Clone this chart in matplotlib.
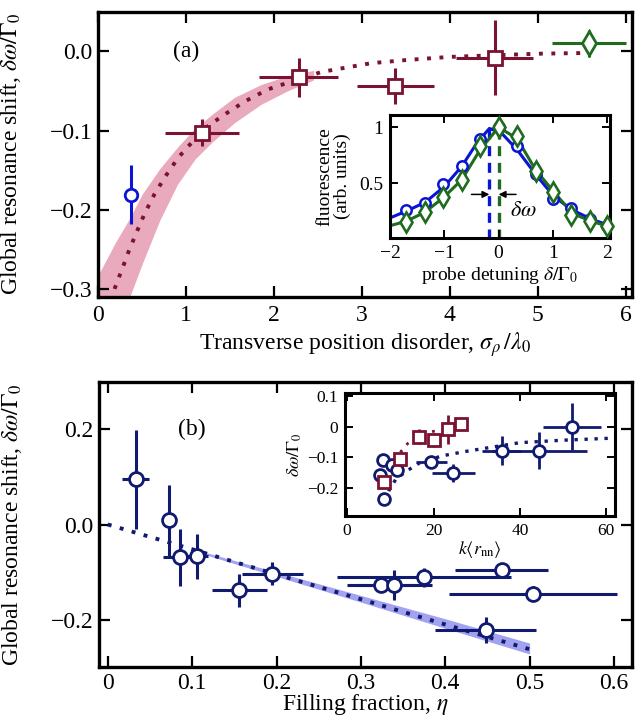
import matplotlib
matplotlib.use("Agg")
import matplotlib.pyplot as plt

# ── Style ────────────────────────────────────────────────────────────────────
plt.rcParams.update({
    "font.family": "serif",
    "font.serif": ["Liberation Serif", "DejaVu Serif"],
    "mathtext.fontset": "stix",
    "font.size": 17,
    "axes.linewidth": 2.4,
    "xtick.direction": "in", "ytick.direction": "in",
    "xtick.top": True, "ytick.right": True,
    "xtick.major.size": 8, "ytick.major.size": 8,
    "xtick.major.width": 1.6, "ytick.major.width": 1.6,
    "xtick.minor.visible": False, "ytick.minor.visible": False,
    "xtick.major.pad": 6, "ytick.major.pad": 4,
})

MAROON = "#7a1232"
PINK = "#eaaabd"
BLUE = "#0a14d4"
GREEN = "#1f6b1f"
NAVY = "#101a6e"
LIGHTBLUE = "#a2a2f0"

# ── Data: panel (a) ──────────────────────────────────────────────────────────
sig_blue, shift_blue, shift_blue_err = [0.37], [-0.181], [0.037]

sig_red = [1.18, 2.28, 3.38, 4.51]
shift_red = [-0.103, -0.033, -0.044, -0.008]
sig_red_err = [0.42, 0.45, 0.44, 0.44]
shift_red_err = [0.017, 0.024, 0.023, 0.047]

sig_green, shift_green = [5.58], [0.01]
sig_green_err, shift_green_err = [0.42], [0.017]

theory_a_x = [0.15, 0.19, 0.27, 0.34, 0.44, 0.53, 0.64, 0.78, 0.91, 1.08, 1.25,
              1.46, 1.67, 1.93, 2.2, 2.54, 3.1, 3.5, 4.0, 4.5, 5.0, 5.6]
theory_a_y = [-0.315, -0.298, -0.275, -0.254, -0.227, -0.204, -0.18, -0.155,
              -0.134, -0.113, -0.094, -0.078, -0.063, -0.048, -0.038, -0.026,
              -0.015, -0.011, -0.007, -0.005, -0.003, -0.002]

band_a_x = [0.0, 0.2, 0.35, 0.5, 0.7, 0.9, 1.1, 1.3, 1.55, 1.85, 2.15, 2.45]
band_a_hi = [-0.282, -0.240, -0.212, -0.180, -0.148, -0.121, -0.097, -0.079,
             -0.058, -0.042, -0.031, -0.024]
band_a_lo = [-0.43, -0.36, -0.312, -0.268, -0.213, -0.168, -0.136, -0.114,
             -0.090, -0.067, -0.050, -0.036]

# inset (a): line shapes
det = [-1.7, -1.36, -1.02, -0.68, -0.34, 0.0, 0.34, 0.68, 1.0, 1.34, 1.68, 2.0]
fl_blue = [0.26, 0.32, 0.49, 0.65, 0.90, 1.0, 0.83, 0.58, 0.36, 0.28, 0.18, 0.12]
fl_green = [0.15, 0.24, 0.38, 0.53, 0.83, 1.0, 0.92, 0.61, 0.42, 0.22, 0.16, 0.12]

fit_blue_x = [-2.0, -1.7, -1.35, -1.0, -0.68, -0.4, -0.17, 0.05, 0.34, 0.68,
              1.02, 1.36, 1.7, 2.05]
fit_blue_y = [0.19, 0.25, 0.33, 0.47, 0.65, 0.86, 0.99, 0.95, 0.80, 0.58,
              0.38, 0.26, 0.18, 0.12]
fit_green_x = [-2.0, -1.7, -1.36, -1.02, -0.68, -0.34, 0.0, 0.34, 0.68, 1.02,
               1.36, 1.7, 2.05]
fit_green_y = [0.12, 0.16, 0.24, 0.37, 0.53, 0.80, 1.0, 0.90, 0.62, 0.42,
               0.23, 0.16, 0.11]
peak_blue, peak_green = -0.17, 0.0

# ── Data: panel (b) ──────────────────────────────────────────────────────────
eta = [0.033, 0.073, 0.086, 0.106, 0.156, 0.195, 0.324, 0.339, 0.375, 0.467,
       0.504, 0.448]
shift_b = [0.095, 0.009, -0.069, -0.067, -0.138, -0.103, -0.128, -0.127,
           -0.111, -0.095, -0.145, -0.221]
eta_err = [0.016, 0.006, 0.02, 0.013, 0.033, 0.036, 0.04, 0.045, 0.103, 0.055,
           0.10, 0.06]
shift_b_err = [0.104, 0.075, 0.06, 0.048, 0.035, 0.025, 0.01, 0.032, 0.02,
               0.008, 0.015, 0.027]

theory_b_x = [0.0, 0.1, 0.2, 0.3, 0.4, 0.5]
theory_b_y = [0.0, -0.052, -0.105, -0.157, -0.21, -0.262]
band_b_x = [0.1, 0.2, 0.3, 0.4, 0.5]
band_b_hi = [-0.051, -0.100, -0.149, -0.198, -0.249]
band_b_lo = [-0.055, -0.109, -0.163, -0.218, -0.272]

# inset (b)
k_navy = [8.2, 7.6, 8.6, 10.3, 11.6, 19.5, 24.6, 35.8, 44.5, 52.0]
d_navy = [-0.108, -0.156, -0.234, -0.124, -0.141, -0.116, -0.151, -0.078,
          -0.078, 0.0]
k_navy_err = [0.5, 0.8, 0.5, 1.0, 1.3, 3.5, 5.0, 4.5, 11.0, 6.7]
d_navy_err = [0.01, 0.01, 0.02, 0.02, 0.02, 0.015, 0.03, 0.047, 0.06, 0.076]

k_red = [8.6, 12.2, 16.6, 20.0, 23.3, 26.3]
d_red = [-0.18, -0.105, -0.033, -0.044, -0.008, 0.008]
k_red_err = [0.6, 0.8, 1.0, 1.0, 1.2, 1.3]
d_red_err = [0.017, 0.017, 0.024, 0.023, 0.047, 0.017]

th_navy_k = [8.8, 9.7, 11.3, 13.9, 16.6, 21.9, 27.2, 30.7, 40.0, 50.0, 62.0]
th_navy_d = [-0.24, -0.207, -0.17, -0.143, -0.119, -0.095, -0.081, -0.073,
             -0.052, -0.044, -0.037]
th_red_k = [8.3, 9.5, 11.0, 12.5, 14.0, 16.0, 18.5, 21.0, 24.0, 27.0]
th_red_d = [-0.23, -0.17, -0.115, -0.08, -0.055, -0.035, -0.02, -0.012,
            -0.005, 0.0]

# ── Helpers ──────────────────────────────────────────────────────────────────
def errpts(ax, x, y, xerr, yerr, color, marker, ms, lw=2.2, mew=2.0, z=4):
    ax.errorbar(x, y, xerr=xerr, yerr=yerr, fmt=marker, color=color,
                mfc="white", mec=color, ms=ms, mew=mew, elinewidth=lw,
                capsize=0, zorder=z)

def side_ticks(ax, size=8, width=1.6):
    ax.tick_params(which="major", direction="in", top=True, right=True,
                   length=size, width=width)

fig = plt.figure(figsize=(6.41, 7.23), dpi=100)

# ── Panel (a) ────────────────────────────────────────────────────────────────
ax1 = fig.add_axes([0.1534, 0.5892, 0.8322, 0.3946])
ax1.fill_between(band_a_x, band_a_lo, band_a_hi, color=PINK, lw=0, zorder=1)
ax1.plot(theory_a_x, theory_a_y, ls=(0, (1, 2.2)), lw=2.8, color=MAROON, zorder=2)
errpts(ax1, sig_blue, shift_blue, None, shift_blue_err, BLUE, "o", 9)
errpts(ax1, sig_red, shift_red, sig_red_err, shift_red_err, MAROON, "s", 9.5)
errpts(ax1, sig_green, shift_green, sig_green_err, shift_green_err, GREEN, "d", 12)
ax1.set_xlim(0, 6.07)
ax1.set_ylim(-0.31, 0.05)
ax1.set_xticks([0, 1, 2, 3, 4, 5, 6])
ax1.set_yticks([0.0, -0.1, -0.2, -0.3])
ax1.set_yticklabels(["0.0", "\u22120.1", "\u22120.2", "\u22120.3"])
side_ticks(ax1)
ax1.set_xlabel(r"Transverse position disorder, $\sigma_{\rho}\,/\lambda_0$", labelpad=3)
ax1.set_ylabel(r"Global resonance shift, $\delta\omega/\Gamma_0$")
ax1.yaxis.set_label_coords(-0.142, 0.5)
ax1.text(1.0, 0.0, "(a)", ha="center", va="center", fontsize=17)

# inset (a)
axi = fig.add_axes([0.6084, 0.6708, 0.3432, 0.1701])
axi.plot(fit_blue_x, fit_blue_y, color=BLUE, lw=2.2, zorder=2)
axi.plot(fit_green_x, fit_green_y, color=GREEN, lw=2.2, zorder=2)
axi.plot(det, fl_blue, "o", color=BLUE, mfc="white", ms=7.5, mew=1.8, zorder=3)
axi.plot(det, fl_green, "d", color=GREEN, mfc="white", ms=10.5, mew=1.9, zorder=4,
         clip_on=False)
axi.vlines([peak_blue], 0, 1.0, colors=BLUE, linestyles=(0, (3, 2)), lw=2.4, zorder=1)
axi.vlines([peak_green], 0, 1.0, colors=GREEN, linestyles=(0, (3, 2)), lw=2.4, zorder=1)
axi.annotate("", xy=(peak_blue, 0.40), xytext=(-0.5, 0.40),
             arrowprops=dict(arrowstyle="-|>", color="black", lw=1.1,
                             mutation_scale=10, shrinkA=0, shrinkB=0))
axi.annotate("", xy=(peak_green, 0.40), xytext=(0.32, 0.40),
             arrowprops=dict(arrowstyle="-|>", color="black", lw=1.1,
                             mutation_scale=10, shrinkA=0, shrinkB=0))
axi.text(0.45, 0.25, r"$\delta\omega$", ha="center", va="center", fontsize=16)
axi.set_xlim(-2, 2.05)
axi.set_ylim(0.01, 1.11)
axi.set_xticks([-2, -1, 0, 1, 2])
axi.set_xticklabels(["\u22122", "\u22121", "0", "1", "2"])
axi.set_yticks([0.5, 1])
axi.set_yticklabels(["0.5", "1"])
axi.tick_params(labelsize=14, pad=5)
side_ticks(axi, size=6, width=1.4)
for s in axi.spines.values():
    s.set_linewidth(2.2)
axi.set_xlabel(r"probe detuning $\delta/\Gamma_0$", fontsize=14, labelpad=2)
axi.set_ylabel("fluorescence\n(arb. units)", fontsize=14, labelpad=6,
               linespacing=1.0)

# ── Panel (b) ────────────────────────────────────────────────────────────────
ax2 = fig.add_axes([0.155, 0.0770, 0.8305, 0.3951])
ax2.fill_between(band_b_x, band_b_lo, band_b_hi, color=LIGHTBLUE, lw=0, zorder=1)
ax2.plot(theory_b_x, theory_b_y, ls=(0, (1, 2.2)), lw=2.8, color=NAVY, zorder=2)
errpts(ax2, eta, shift_b, eta_err, shift_b_err, NAVY, "o", 10)
ax2.set_xlim(-0.01, 0.621)
ax2.set_ylim(-0.3, 0.3)
ax2.set_xticks([0, 0.1, 0.2, 0.3, 0.4, 0.5, 0.6])
ax2.set_xticklabels(["0", "0.1", "0.2", "0.3", "0.4", "0.5", "0.6"])
ax2.set_yticks([0.2, 0.0, -0.2])
ax2.set_yticklabels(["0.2", "0.0", "\u22120.2"])
side_ticks(ax2)
ax2.tick_params(axis="x", pad=4)
ax2.set_xlabel(r"Filling fraction, $\eta$", labelpad=-1)
ax2.set_ylabel(r"Global resonance shift, $\delta\omega/\Gamma_0$")
ax2.yaxis.set_label_coords(-0.142, 0.5)
ax2.text(0.1, 0.2, "(b)", ha="center", va="center", fontsize=17)

# inset (b)
axj = fig.add_axes([0.5382, 0.2863, 0.4212, 0.1705])
axj.plot(th_navy_k, th_navy_d, ls=(0, (1, 2)), lw=2.4, color=NAVY, zorder=2)
axj.plot(th_red_k, th_red_d, ls=(0, (1, 2.5)), lw=2.0, color=MAROON, zorder=2)
errpts(axj, k_navy, d_navy, k_navy_err, d_navy_err, NAVY, "o", 8.5, lw=2.0, mew=2.0)
errpts(axj, k_red, d_red, k_red_err, d_red_err, MAROON, "s", 8.5, lw=2.0, mew=2.0, z=5)
axj.set_xlim(-0.5, 62)
axj.set_ylim(-0.29, 0.11)
axj.set_xticks([0, 20, 40, 60])
axj.set_yticks([0.1, 0, -0.1, -0.2])
axj.set_yticklabels(["0.1", "0", "\u22120.1", "\u22120.2"])
axj.tick_params(labelsize=12.5, pad=5)
side_ticks(axj, size=6, width=1.4)
for s in axj.spines.values():
    s.set_linewidth(2.2)
axj.set_xlabel(r"$k\langle r_{\rm nn}\rangle$", fontsize=13, labelpad=0)
axj.set_ylabel(r"$\delta\omega/\Gamma_0$", fontsize=13, labelpad=2)

fig.savefig("out.png", dpi=100)
